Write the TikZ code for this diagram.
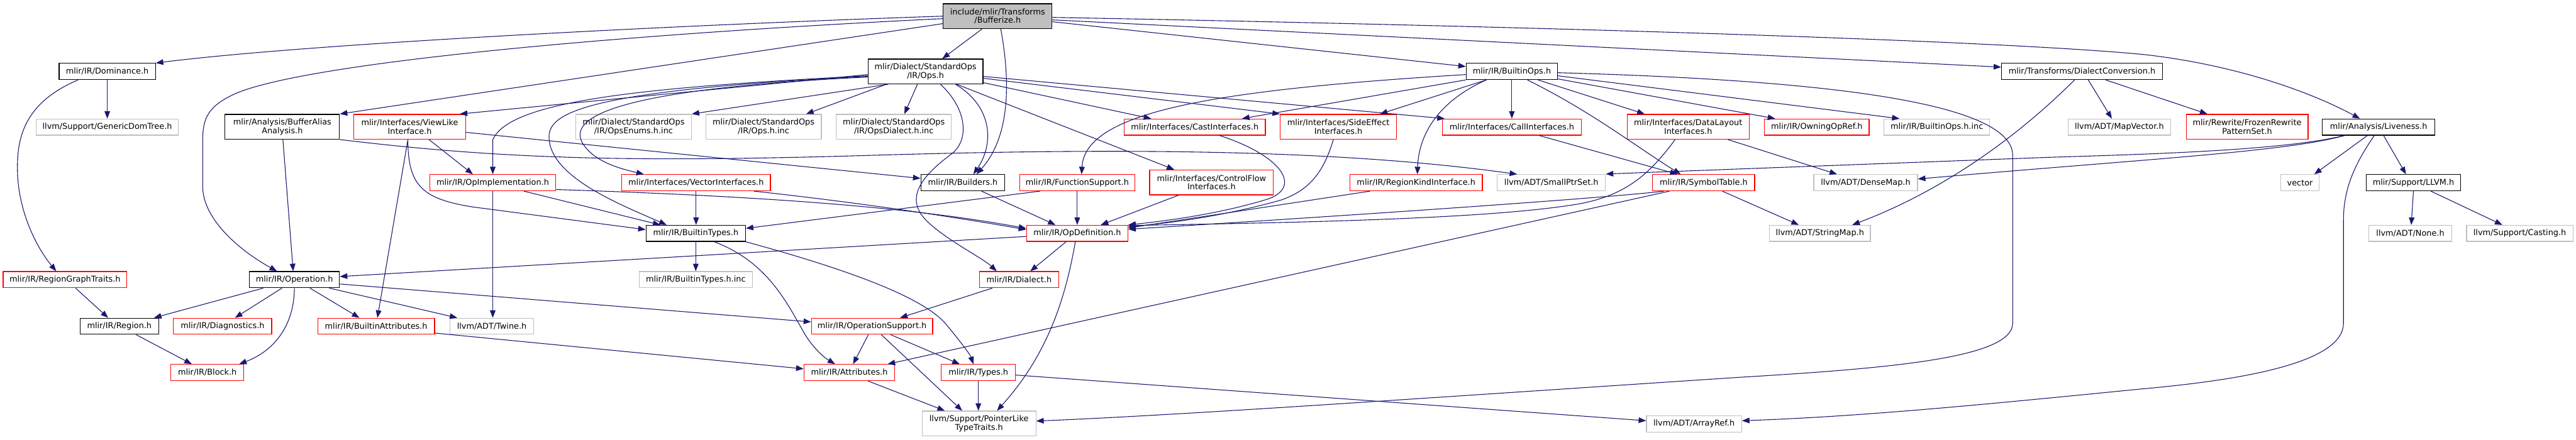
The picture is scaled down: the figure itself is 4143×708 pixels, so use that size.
\documentclass[tikz,border=0pt]{standalone}
\usepackage{fontspec}
\setmainfont{DejaVu Sans}
\usetikzlibrary{arrows.meta}
\definecolor{edgec}{HTML}{191970}
\definecolor{grayb}{HTML}{BFBFBF}
\definecolor{redb}{HTML}{FF0000}
\begin{document}
\begin{tikzpicture}[x=1pt,y=-1pt,
  nb/.style={draw=black, line width=1.2pt, fill=white, inner sep=0pt, align=center,
    font=\fontsize{13pt}{14pt}\selectfont, minimum height=26pt},
  nr/.style={nb, draw=redb},
  ng/.style={nb, draw=grayb},
  dbl/.style={minimum height=40pt},
  dep/.style={draw=edgec, line width=1.1pt, -{Triangle[length=12pt,width=9pt]}}]
\fill[white] (0,0) rectangle (4143,708);
\useasboundingbox (0,0) rectangle (4143,708);

% row 1
\node[nb, dbl, fill=grayb, minimum width=175pt] (buf) at (1604.5,26) {include/mlir/Transforms\\/Bufferize.h};
% row 2
\node[nb, minimum width=155pt] (dom) at (172.5,115) {mlir/IR/Dominance.h};
\node[nb, dbl, minimum width=185pt] (ops) at (1488.5,115) {mlir/Dialect/StandardOps\\/IR/Ops.h};
\node[nb, minimum width=147pt] (bops) at (2431.5,115) {mlir/IR/BuiltinOps.h};
\node[nb, minimum width=259pt] (dconv) at (3348.5,115) {mlir/Transforms/DialectConversion.h};
% row 3
\node[ng, minimum width=229pt] (gdt) at (172.5,204.5) {llvm/Support/GenericDomTree.h};
\node[nb, dbl, minimum width=184pt] (baa) at (454,204) {mlir/Analysis/BufferAlias\\Analysis.h};
\node[nr, dbl, minimum width=180pt] (vli) at (659,204) {mlir/Interfaces/ViewLike\\Interface.h};
\node[ng, dbl, minimum width=186pt] (oenum) at (1019,204) {mlir/Dialect/StandardOps\\/IR/OpsEnums.h.inc};
\node[ng, dbl, minimum width=186pt] (opsinc) at (1228,204) {mlir/Dialect/StandardOps\\/IR/Ops.h.inc};
\node[ng, dbl, minimum width=185pt] (odial) at (1437.5,204) {mlir/Dialect/StandardOps\\/IR/OpsDialect.h.inc};
\node[nr, minimum width=227pt] (cast) at (1921.5,204.5) {mlir/Interfaces/CastInterfaces.h};
\node[nr, dbl, minimum width=187pt] (side) at (2152.5,204) {mlir/Interfaces/SideEffect\\Interfaces.h};
\node[nr, minimum width=223pt] (call) at (2431.5,204.5) {mlir/Interfaces/CallInterfaces.h};
\node[nr, dbl, minimum width=196pt] (dlay) at (2715,204) {mlir/Interfaces/DataLayout\\Interfaces.h};
\node[nr, minimum width=168pt] (owning) at (2922,204.5) {mlir/IR/OwningOpRef.h};
\node[ng, minimum width=170pt] (boinc) at (3115,204.5) {mlir/IR/BuiltinOps.h.inc};
\node[ng, minimum width=165pt] (mapv) at (3408.5,204.5) {llvm/ADT/MapVector.h};
\node[nr, dbl, minimum width=196pt] (frozen) at (3614,204) {mlir/Rewrite/FrozenRewrite\\PatternSet.h};
\node[nb, minimum width=181pt] (live) at (3825.5,204.5) {mlir/Analysis/Liveness.h};
% row 4
\node[nr, minimum width=203pt] (opimpl) at (792.5,294) {mlir/IR/OpImplementation.h};
\node[nr, minimum width=239pt] (vec) at (1119.5,294) {mlir/Interfaces/VectorInterfaces.h};
\node[nb, minimum width=135pt] (build) at (1548.5,294) {mlir/IR/Builders.h};
\node[nr, minimum width=185pt] (func) at (1732.5,294) {mlir/IR/FunctionSupport.h};
\node[nr, dbl, minimum width=199pt] (cflow) at (1948.5,293.5) {mlir/Interfaces/ControlFlow\\Interfaces.h};
\node[nr, minimum width=213pt] (rkind) at (2277.5,294) {mlir/IR/RegionKindInterface.h};
\node[ng, minimum width=174pt] (sptr) at (2495,294) {llvm/ADT/SmallPtrSet.h};
\node[nr, minimum width=164pt] (symt) at (2740,294) {mlir/IR/SymbolTable.h};
\node[ng, minimum width=167pt] (dmap) at (3000.5,294) {llvm/ADT/DenseMap.h};
\node[ng, minimum width=62pt] (vector) at (3699,294) {vector};
\node[nb, minimum width=151pt] (llvmh) at (3881.5,294) {mlir/Support/LLVM.h};
% row 5
\node[nb, minimum width=160pt] (btypes) at (1119,375.5) {mlir/IR/BuiltinTypes.h};
\node[nr, minimum width=163pt] (opdef) at (1732.5,375.5) {mlir/IR/OpDefinition.h};
\node[ng, minimum width=162pt] (smap) at (2927,375.5) {llvm/ADT/StringMap.h};
\node[ng, minimum width=133pt] (none) at (3876.5,375.5) {llvm/ADT/None.h};
\node[ng, minimum width=171pt] (cast2) at (4052.5,375.5) {llvm/Support/Casting.h};
% row 6
\node[nr, minimum width=199pt] (rgt) at (104.5,450) {mlir/IR/RegionGraphTraits.h};
\node[nb, minimum width=145pt] (oper) at (473.5,450) {mlir/IR/Operation.h};
\node[ng, minimum width=182pt] (btinc) at (1119,450) {mlir/IR/BuiltinTypes.h.inc};
\node[nr, minimum width=128pt] (dialect) at (1639,450) {mlir/IR/Dialect.h};
% row 7
\node[nb, minimum width=126pt] (region) at (192,525) {mlir/IR/Region.h};
\node[nr, minimum width=158pt] (diag) at (358,525) {mlir/IR/Diagnostics.h};
\node[nr, minimum width=188pt] (battr) at (605,525) {mlir/IR/BuiltinAttributes.h};
\node[ng, minimum width=134pt] (twine) at (791,525) {llvm/ADT/Twine.h};
\node[nr, minimum width=195pt] (opsup) at (1402.5,525) {mlir/IR/OperationSupport.h};
% row 8
\node[nr, minimum width=117pt] (block) at (333.5,599.5) {mlir/IR/Block.h};
\node[nr, minimum width=146pt] (attr) at (1366,599.5) {mlir/IR/Attributes.h};
\node[nr, minimum width=119pt] (types) at (1573.5,599.5) {mlir/IR/Types.h};
\node[ng, minimum width=153pt] (aref) at (2724.5,682) {llvm/ADT/ArrayRef.h};
% row 9
\node[ng, dbl, minimum width=183pt] (ptr) at (1574.5,681.5) {llvm/Support/PointerLike\\TypeTraits.h};

% ---- edges: Bufferize
\draw[dep] (buf.west) .. controls (1100,40) and (500,70) .. (dom.north east);
\draw[dep] ([yshift=-4pt]buf.west) .. controls (1000,55) and (500,100) .. (380,150) .. controls (335,170) and (326,190) .. (326,225) -- (326,300) .. controls (326,350) and (380,400) .. ([xshift=45pt]oper.north west);
\draw[dep] ([yshift=-12pt]buf.west) -- (baa.north east);
\draw[dep] ([xshift=-25pt]buf.south) -- ([xshift=27pt]ops.north);
\draw[dep] ([xshift=5pt]buf.south) .. controls (1625,130) and (1625,220) .. ([xshift=22pt]build.north);
\draw[dep] ([yshift=-9pt]buf.east) -- ([yshift=8pt]bops.west);
\draw[dep] ([yshift=-6pt]buf.east) -- ([yshift=7pt]dconv.west);
\draw[dep] ([yshift=-2pt]buf.east) .. controls (2600,45) and (3250,68) .. (3450,88) .. controls (3600,105) and (3720,150) .. ([xshift=-30pt]live.north);
% Dominance
\draw[dep] (dom) -- (gdt);
\draw[dep] ([xshift=-47pt]dom.south) .. controls (40,165) and (28,220) .. (28,270) .. controls (28,340) and (60,400) .. ([xshift=-14pt]rgt.north);
% Ops.h
\draw[dep] ([xshift=-60pt]ops.south) -- (oenum.north east);
\draw[dep] ([xshift=-63pt]ops.south) -- ([xshift=-25pt]opsinc.north east);
\draw[dep] ([xshift=-13pt]ops.south) -- ([xshift=17pt]odial.north);
\draw[dep] ([yshift=-5pt]ops.west) -- ([xshift=-10pt]vli.north east);
\draw[dep] ([yshift=-7pt]ops.west) .. controls (1050,140) and (820,160) .. (792.5,225) -- (opimpl.north);
\draw[dep] ([yshift=-8pt]ops.west) .. controls (950,145) and (883,180) .. (883,220) .. controls (883,285) and (1000,330) .. ([xshift=-47pt]btypes.north);
\draw[dep] ([yshift=-9pt]ops.west) .. controls (960,145) and (910,195) .. (940,235) .. controls (960,262) and (1000,272) .. ([xshift=-84pt]vec.north);
\draw[dep] ([xshift=24pt]ops.south) .. controls (1555,175) and (1560,225) .. (1530,248) .. controls (1480,285) and (1455,320) .. (1490,355) .. controls (1520,385) and (1580,415) .. ([xshift=-36pt]dialect.north);
\draw[dep] ([xshift=48pt]ops.south) .. controls (1595,170) and (1600,230) .. ([xshift=17pt]build.north);
\draw[dep] ([xshift=50pt]ops.south) -- ([xshift=-60pt]cflow.north);
\draw[dep] ([yshift=-18pt]ops.east) -- ([xshift=-70pt]cast.north);
\draw[dep] ([yshift=-11pt]ops.east) -- (side.north west);
\draw[dep] ([yshift=-8pt]ops.east) -- ([xshift=-108pt]call.north);
% ViewLike
\draw[dep] ([xshift=-3pt]vli.south) -- ([xshift=2pt]battr.north);
\draw[dep] ([xshift=-3pt]vli.south) .. controls (656,300) and (680,320) .. (760,333) -- ([yshift=6pt]btypes.west);
\draw[dep] ([xshift=31pt]vli.south) -- ([xshift=-32pt]opimpl.north);
\draw[dep] ([yshift=-9pt]vli.east) -- ([yshift=7pt]build.west);
% BufferAlias
\draw[dep] ([xshift=1pt]baa.south) -- ([xshift=-2pt]oper.north);
\draw[dep] (baa.south east) .. controls (800,255) and (1000,262) .. (1400,250) .. controls (1800,238) and (2150,240) .. ([xshift=-55pt]sptr.north);
% OpImplementation
\draw[dep] (opimpl.south) -- (opimpl.south |- twine.north);
\draw[dep] ([xshift=50pt]opimpl.south) -- ([xshift=-57pt]btypes.north);
\draw[dep] ([yshift=-11pt]opimpl.east) .. controls (1300,318) and (1500,340) .. ([yshift=8pt]opdef.west);
% VectorInterfaces
\draw[dep] (vec.south) -- (vec.south |- btypes.north);
\draw[dep] ([xshift=93pt]vec.south) .. controls (1400,328) and (1550,352) .. ([yshift=6pt]opdef.west);
% Builders, FunctionSupport, ControlFlow
\draw[dep] ([xshift=30pt]build.south) -- ([xshift=-35pt]opdef.north);
\draw[dep] (func) -- (opdef);
\draw[dep] ([xshift=-60pt]func.south) -- ([yshift=8pt]btypes.east);
\draw[dep] ([xshift=-53pt]cflow.south) -- ([xshift=38pt]opdef.north);
% Cast, SideEffect, RegionKind
\draw[dep] ([xshift=40pt]cast.south) .. controls (2060,250) and (2095,300) .. (2040,320) .. controls (1960,345) and (1870,356) .. (opdef.north east);
\draw[dep] ([xshift=-8pt]side.south) .. controls (2130,272) and (2110,305) .. (2060,322) .. controls (1960,350) and (1870,360) .. ([yshift=-3pt]opdef.north east);
\draw[dep] ([xshift=-74pt]rkind.south) -- ([yshift=-5pt]opdef.north east);
% SymbolTable, Call
\draw[dep] ([xshift=-64pt]symt.south) .. controls (2590,318) and (2200,345) .. ([yshift=-7pt]opdef.north east);
\draw[dep] ([xshift=-55pt]symt.south) -- ([xshift=-12pt]attr.north east);
\draw[dep] ([xshift=30pt]symt.south) -- ([xshift=-34pt]smap.north);
\draw[dep] ([xshift=44pt]call.south) -- ([xshift=-42pt]symt.north);
% DataLayout
\draw[dep] ([xshift=-21pt]dlay.south) .. controls (2650,285) and (2610,315) .. (2540,328) .. controls (2400,352) and (2100,358) .. ([yshift=-1pt]opdef.north east);
\draw[dep] ([xshift=64pt]dlay.south) -- ([xshift=-46pt]dmap.north);
% BuiltinOps
\draw[dep] ([yshift=-5pt]bops.west) .. controls (1950,145) and (1745,180) .. ([xshift=7pt]func.north);
\draw[dep] (bops.south west) -- ([xshift=76pt]cast.north);
\draw[dep] ([xshift=-41pt]bops.south) -- ([xshift=67pt]side.north);
\draw[dep] ([xshift=-41pt]bops.south) .. controls (2320,160) and (2282,210) .. ([xshift=2pt]rkind.north);
\draw[dep] (bops) -- (call);
\draw[dep] ([xshift=25pt]bops.south) .. controls (2560,180) and (2630,235) .. ([xshift=-37pt]symt.north);
\draw[dep] ([xshift=42pt]bops.south) -- ([xshift=-70pt]dlay.north);
\draw[dep] ([yshift=-2pt]bops.east) .. controls (2900,128) and (3237,160) .. (3237,250) -- (3237,520) .. controls (3237,575) and (3050,592) .. (2800,607) .. controls (2300,640) and (1900,668) .. ([yshift=4pt]ptr.east);
\draw[dep] ([yshift=-7pt]bops.east) -- ([xshift=-60pt]boinc.north);
\draw[dep] ([yshift=-12pt]bops.east) -- ([xshift=-67pt]owning.north);
% DialectConversion
\draw[dep] ([xshift=-12pt]dconv.south) .. controls (3250,215) and (3130,305) .. ([xshift=52pt]smap.north);
\draw[dep] ([xshift=10pt]dconv.south) -- ([xshift=-12pt]mapv.north);
\draw[dep] ([xshift=38pt]dconv.south) -- ([xshift=-64pt]frozen.north);
% Liveness
\draw[dep] ([xshift=-18pt]live.south) -- ([xshift=23pt]vector.north);
\draw[dep] ([xshift=8pt]live.south) -- ([xshift=-12pt]llvmh.north);
\draw[dep] ([xshift=-55pt]live.south) .. controls (3680,240) and (3500,247) .. (3300,253) -- ([yshift=14pt]sptr.east);
\draw[dep] ([xshift=-55pt]live.south) .. controls (3680,244) and (3450,256) .. ([yshift=6pt]dmap.east);
\draw[dep] ([xshift=-7pt]live.south) .. controls (3790,260) and (3769,300) .. (3769,354) -- (3769,520) .. controls (3769,585) and (3600,612) .. (3443,626) .. controls (3200,650) and (3000,670) .. ([yshift=5pt]aref.east);
% LLVM.h
\draw[dep] (llvmh.south) -- ([xshift=1.5pt]none.north);
\draw[dep] ([xshift=28pt]llvmh.south) -- ([xshift=-28pt]cast2.north);
% RegionGraphTraits, Operation, Region
\draw[dep] ([xshift=17pt]rgt.south) -- ([xshift=-18pt]region.north);
\draw[dep] ([xshift=-50pt]oper.south) -- ([xshift=-8pt]region.north east);
\draw[dep] ([xshift=-20pt]oper.south) -- ([xshift=20pt]diag.north);
\draw[dep] (oper.south) .. controls (473,525) and (440,565) .. ([xshift=-8pt]block.north east);
\draw[dep] ([xshift=25pt]oper.south) -- ([xshift=-27pt]battr.north);
\draw[dep] ([yshift=-7pt]oper.east) -- ([yshift=7pt]opsup.west);
\draw[dep] ([xshift=56pt]oper.south) -- ([xshift=12pt]twine.north west);
\draw[dep] ([xshift=27pt]region.south) -- ([xshift=-25pt]block.north);
% BuiltinTypes
\draw[dep] (btypes) -- (btinc);
\draw[dep] ([xshift=30pt]btypes.south) .. controls (1230,420) and (1262,480) .. (1290,530) .. controls (1305,558) and (1325,575) .. ([xshift=-23pt]attr.north);
\draw[dep] (btypes.south east) .. controls (1350,430) and (1480,475) .. (1520,520) .. controls (1545,550) and (1560,570) .. ([xshift=-8pt]types.north);
% OpDefinition
\draw[dep] ([yshift=-5pt]opdef.west) -- ([yshift=5pt]oper.east);
\draw[dep] ([xshift=-18pt]opdef.south) -- ([xshift=18pt]dialect.north);
\draw[dep] ([xshift=-3pt]opdef.south) .. controls (1715,470) and (1690,565) .. ([xshift=29pt]ptr.north);
% Dialect, OperationSupport
\draw[dep] ([xshift=-43pt]dialect.south) -- ([xshift=45pt]opsup.north);
\draw[dep] ([xshift=-6pt]opsup.south) -- ([xshift=6pt]attr.north);
\draw[dep] ([xshift=30pt]opsup.south) -- ([xshift=-30pt]types.north);
\draw[dep] ([xshift=15pt]opsup.south) -- ([xshift=-27pt]ptr.north);
% BuiltinAttributes, Attributes, Types
\draw[dep] ([yshift=-11pt]battr.east) -- ([yshift=6pt]attr.west);
\draw[dep] ([xshift=30pt]attr.south) -- ([xshift=-55pt]ptr.north);
\draw[dep] (types.south) -- (types.south |- ptr.north);
\draw[dep] ([yshift=-4pt]types.east) -- ([yshift=5pt]aref.west);
\end{tikzpicture}
\end{document}
